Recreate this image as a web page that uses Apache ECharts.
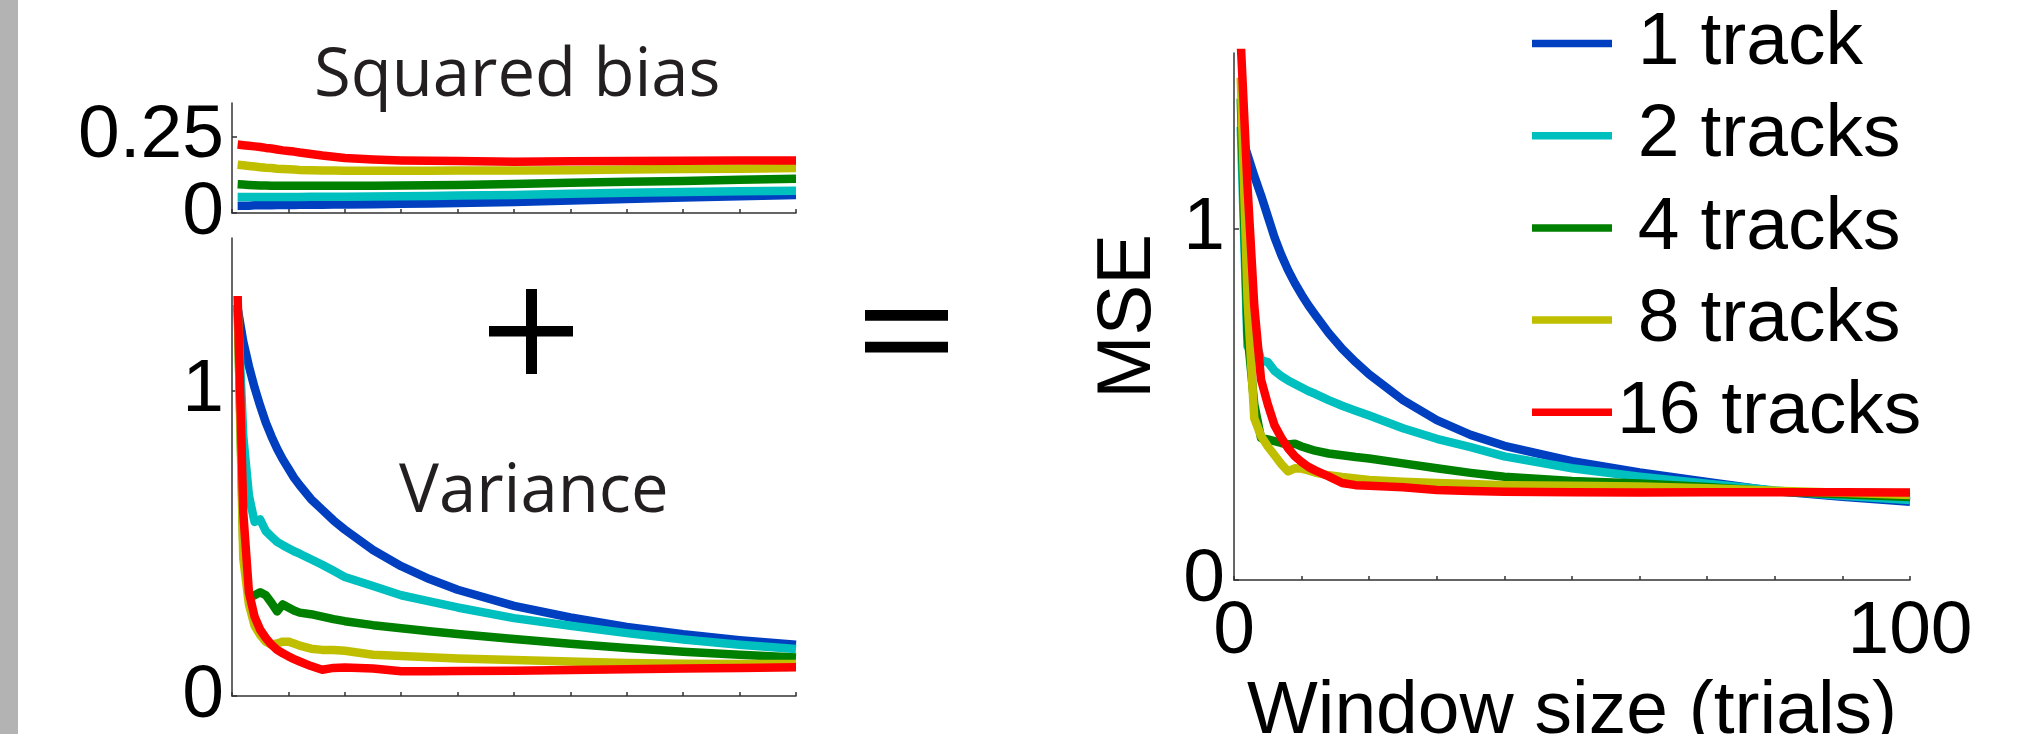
<!DOCTYPE html>
<html>
<head>
<meta charset="utf-8">
<script src="https://cdn.jsdelivr.net/npm/echarts@6/dist/echarts.min.js"></script>
<style>
  html, body { margin: 0; padding: 0; background: #ffffff; }
  #chart { width: 2039px; height: 734px; }
</style>
</head>
<body>
<div id="chart"></div>
<script>
// ---- data ----
const windowSizes = [1,2,3,4,5,6,7,8,9,10,11,12,14,16,18,20,25,30,35,40,50,60,70,80,90,100];

const trackLabels = [' 1 track', ' 2 tracks', ' 4 tracks', ' 8 tracks', '16 tracks'];
const trackColors = ['#0040c0', '#00bfbf', '#008000', '#bfbf00', '#ff0000'];

// Squared bias panel
const biasTrack1  = [.024,.024,.024,.025,.025,.025,.025,.026,.026,.026,.026,.027,.027,.027,.028,.028,.029,.030,.031,.033,.036,.041,.046,.051,.055,.059];
const biasTrack2  = [.052,.052,.052,.052,.052,.052,.052,.052,.052,.052,.052,.052,.053,.053,.053,.053,.054,.055,.056,.057,.059,.063,.066,.069,.071,.073];
const biasTrack4  = [.094,.093,.092,.091,.090,.090,.089,.089,.089,.089,.089,.089,.089,.089,.089,.089,.089,.090,.091,.092,.095,.099,.102,.105,.109,.112];
const biasTrack8  = [.158,.156,.154,.152,.150,.148,.147,.145,.144,.143,.142,.141,.140,.139,.139,.138,.138,.138,.138,.139,.139,.140,.142,.144,.145,.147];
const biasTrack16 = [.224,.222,.220,.218,.216,.213,.211,.208,.205,.203,.201,.198,.193,.188,.184,.180,.175,.172,.171,.170,.168,.169,.170,.171,.172,.172];

// Variance panel
const varTrack1  = [1.27,1.16,1.08,1.01,0.95,0.895,0.85,0.81,0.775,0.745,0.715,0.69,0.645,0.61,0.575,0.545,0.478,0.425,0.383,0.348,0.295,0.257,0.226,0.202,0.183,0.168];
const varTrack2  = [1.28,0.85,0.656,0.57,0.578,0.54,0.522,0.505,0.494,0.484,0.474,0.466,0.448,0.43,0.41,0.39,0.36,0.33,0.31,0.29,0.255,0.23,0.206,0.185,0.168,0.154];
const varTrack4  = [1.28,0.50,0.32,0.33,0.34,0.33,0.305,0.277,0.30,0.29,0.28,0.273,0.268,0.26,0.252,0.245,0.232,0.222,0.212,0.203,0.187,0.171,0.157,0.145,0.135,0.126];
const varTrack8  = [1.28,0.45,0.30,0.23,0.20,0.178,0.168,0.172,0.178,0.178,0.172,0.165,0.155,0.151,0.151,0.148,0.135,0.131,0.127,0.123,0.118,0.113,0.108,0.106,0.105,0.105];
const varTrack16 = [1.31,0.60,0.34,0.26,0.217,0.19,0.168,0.151,0.14,0.13,0.121,0.113,0.098,0.086,0.092,0.093,0.09,0.081,0.081,0.082,0.083,0.085,0.088,0.090,0.092,0.094];

// MSE panel
const mseTrack1  = [1.27,1.21,1.15,1.095,1.035,0.975,0.925,0.882,0.845,0.812,0.782,0.755,0.703,0.658,0.62,0.585,0.512,0.455,0.413,0.382,0.338,0.306,0.279,0.253,0.237,0.223];
const mseTrack2  = [1.29,0.665,0.70,0.625,0.62,0.595,0.58,0.568,0.558,0.548,0.538,0.53,0.512,0.496,0.482,0.468,0.432,0.402,0.378,0.352,0.318,0.294,0.274,0.255,0.24,0.228];
const mseTrack4  = [1.37,0.70,0.50,0.404,0.40,0.395,0.39,0.386,0.388,0.38,0.374,0.368,0.36,0.355,0.35,0.346,0.332,0.318,0.305,0.294,0.282,0.275,0.265,0.252,0.244,0.236];
const mseTrack8  = [1.43,0.80,0.46,0.41,0.38,0.355,0.33,0.309,0.318,0.317,0.312,0.306,0.298,0.293,0.289,0.285,0.28,0.276,0.273,0.27,0.268,0.266,0.261,0.254,0.248,0.242];
const mseTrack16 = [1.53,1.12,0.78,0.57,0.50,0.44,0.405,0.375,0.352,0.336,0.322,0.312,0.295,0.276,0.27,0.268,0.264,0.256,0.253,0.251,0.25,0.249,0.25,0.25,0.25,0.249];

const biasTicks = [0, 0.25];
const varTicks = [0, 1];
const mseTicks = [0, 1];
const windowTickLabels = [0, 100];

// ---- chart ----
const biasSets = [biasTrack1, biasTrack2, biasTrack4, biasTrack8, biasTrack16];
const varSets  = [varTrack1, varTrack2, varTrack4, varTrack8, varTrack16];
const mseSets  = [mseTrack1, mseTrack2, mseTrack4, mseTrack8, mseTrack16];

const numFont = 'Liberation Sans';
const numSize = 75;
const axisColor = '#333333';
const lineWidth = 8.5;

function pairs(vals) { return windowSizes.map((w, i) => [w, vals[i]]); }

function makeSeries(sets, axisIndex) {
  return sets.map((vals, k) => ({
    type: 'line',
    name: trackLabels[k],
    xAxisIndex: axisIndex,
    yAxisIndex: axisIndex,
    data: pairs(vals),
    showSymbol: false,
    symbol: 'none',
    clip: true,
    smooth: false,
    color: trackColors[k],
    lineStyle: { color: trackColors[k], width: lineWidth, cap: 'butt', join: 'round' },
    emphasis: { disabled: true },
    silent: true,
    z: 2 + k
  }));
}

function xAxisDef(gridIndex, showLabels, extra) {
  return Object.assign({
    type: 'value', gridIndex, min: 0, max: 100, interval: 10,
    axisLine: { show: true, onZero: false, lineStyle: { color: axisColor, width: 1.5 } },
    axisTick: { show: true, inside: true, length: 4, lineStyle: { color: axisColor, width: 1.5 } },
    axisLabel: showLabels ? {
      show: true, customValues: windowTickLabels, margin: 15,
      fontFamily: numFont, fontSize: numSize, color: '#000'
    } : { show: false },
    splitLine: { show: false }
  }, extra || {});
}

function yAxisDef(gridIndex, max, ticks, margin, extra) {
  return Object.assign({
    type: 'value', gridIndex, min: 0, max: max,
    axisLine: { show: true, lineStyle: { color: axisColor, width: 1.5 } },
    axisTick: { show: true, inside: true, length: 5, customValues: ticks, lineStyle: { color: axisColor, width: 1.5 } },
    axisLabel: {
      show: true, customValues: ticks, margin: margin,
      fontFamily: numFont, fontSize: numSize, color: '#000',
      formatter: v => String(v)
    },
    splitLine: { show: false }
  }, extra || {});
}

const chart = echarts.init(document.getElementById('chart'), null, { renderer: 'canvas' });

const option = {
  animation: false,
  backgroundColor: '#ffffff',
  grid: [
    { left: 232, top: 103, width: 564, height: 110, containLabel: false, outerBoundsMode: 'none' },
    { left: 232, top: 238, width: 564, height: 458, containLabel: false, outerBoundsMode: 'none' },
    { left: 1234, top: 53, width: 676, height: 527, containLabel: false, outerBoundsMode: 'none' }
  ],
  xAxis: [
    xAxisDef(0, false),
    xAxisDef(1, false),
    xAxisDef(2, true, {
      name: 'Window size (trials)', nameLocation: 'middle', nameGap: 80,
      nameTextStyle: { fontFamily: numFont, fontSize: numSize, color: '#000' }
    })
  ],
  yAxis: [
    yAxisDef(0, 0.36, biasTicks, 8),
    yAxisDef(1, 1.5, varTicks, 8),
    yAxisDef(2, 1.5, mseTicks, 9, {
      name: 'MSE', nameLocation: 'middle', nameGap: 67, nameRotate: 90,
      nameTextStyle: { fontFamily: numFont, fontSize: 76, color: '#000' }
    })
  ],
  legend: {
    show: true,
    data: trackLabels,
    orient: 'vertical',
    left: 1527, top: 1,
    icon: 'rect',
    itemWidth: 80, itemHeight: 7.5, itemGap: 17.2,
    selectedMode: false,
    textStyle: { fontFamily: numFont, fontSize: 75, color: '#000', lineHeight: 70 }
  },
  graphic: [
    { type: 'rect', shape: { x: 0, y: 0, width: 18, height: 734 }, style: { fill: '#b3b3b3' }, silent: true },
    { type: 'text', style: { text: 'Squared bias', x: 314, y: 77, font: '67px "Open Sans"', fill: '#231f20', textAlign: 'left', textVerticalAlign: 'middle' }, silent: true },
    { type: 'text', style: { text: 'Variance', x: 399, y: 493, font: '67px "Open Sans"', fill: '#231f20', textAlign: 'left', textVerticalAlign: 'middle' }, silent: true },
    // plus sign
    { type: 'rect', shape: { x: 526, y: 289, width: 11, height: 85 }, style: { fill: '#000' }, silent: true },
    { type: 'rect', shape: { x: 489, y: 326, width: 84, height: 10.5 }, style: { fill: '#000' }, silent: true },
    // equals sign
    { type: 'rect', shape: { x: 865, y: 310, width: 83, height: 10.7 }, style: { fill: '#000' }, silent: true },
    { type: 'rect', shape: { x: 865, y: 341.7, width: 83, height: 10.7 }, style: { fill: '#000' }, silent: true }
  ],
  series: [].concat(makeSeries(biasSets, 0), makeSeries(varSets, 1), makeSeries(mseSets, 2))
};

chart.setOption(option);
</script>
</body>
</html>
